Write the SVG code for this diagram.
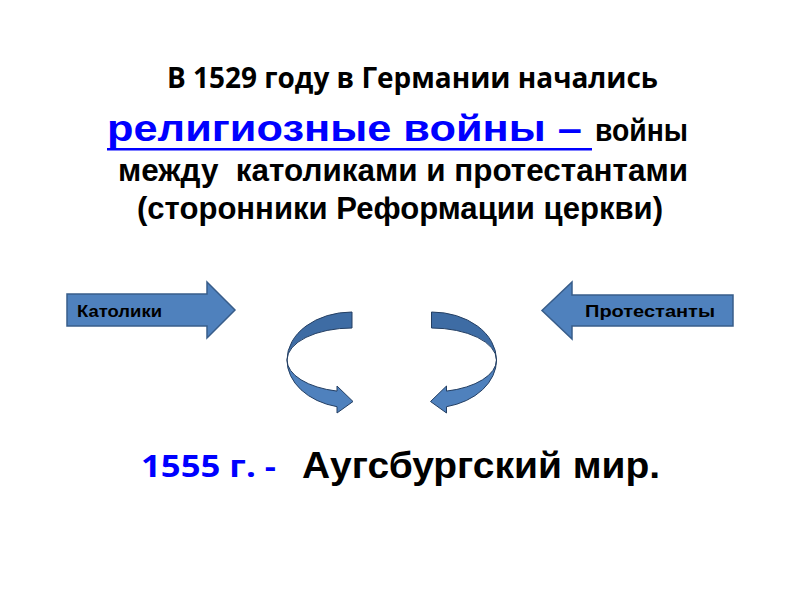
<svg xmlns="http://www.w3.org/2000/svg" width="800" height="600" viewBox="0 0 800 600">
<style>
.cal{font-family:"Open Sans","Noto Sans","DejaVu Sans",sans-serif;font-weight:bold}
.ar{font-family:"Liberation Sans",Arial,sans-serif;font-weight:bold}
.blk{fill:#000}
.blu{fill:#0000ff}
.arrow{fill:#4f81bd;stroke:#385d8a;stroke-width:1.5}
.back{fill:#3e6ca4;stroke:#243f63;stroke-width:1}
.front{fill:#4f81bd;stroke:#243f63;stroke-width:1}
.lbl{font-family:"Liberation Sans",Arial,sans-serif;font-weight:bold;font-size:17px;fill:#000}
</style>
<rect width="800" height="600" fill="#fff"/>
<g id="title">
<text class="cal blk" x="167" y="88" font-size="28" textLength="491" lengthAdjust="spacingAndGlyphs">В 1529 году в Германии начались</text>
<text class="ar blu" x="107" y="141" font-size="36" textLength="475" lengthAdjust="spacingAndGlyphs">религиозные войны –</text>
<rect x="107" y="148" width="485" height="2.5" fill="#0000ff"/>
<text class="ar blk" x="595" y="141" font-size="32" textLength="93" lengthAdjust="spacingAndGlyphs">войны</text>
<text class="ar blk" x="118" y="181" font-size="32" xml:space="preserve" textLength="570" lengthAdjust="spacingAndGlyphs">между  католиками и протестантами</text>
<text class="ar blk" x="137" y="219" font-size="32" textLength="526" lengthAdjust="spacingAndGlyphs">(сторонники Реформации церкви)</text>
</g>
<g id="katoliki">
<path class="arrow" d="M67,294 H207 V282 L235,310 L207,338 V326 H67 Z"/>
<text class="lbl" x="77" y="317" textLength="85" lengthAdjust="spacingAndGlyphs">Католики</text>
</g>
<g id="protestanty">
<path class="arrow" d="M733,295 H572 V282 L542,310.5 L572,339 V326 H733 Z"/>
<text class="lbl" x="585" y="317" textLength="130" lengthAdjust="spacingAndGlyphs">Протестанты</text>
</g>
<g id="connectors">
<g id="curve-left">
<path class="back" d="M352,312 A65,48 0 0 0 287,360 A65,32 0 0 1 352,328 Z"/>
<path class="front" d="M287,360 A65,48 0 0 0 337,406.7 L337,413 L353,401.5 L337,386 L337,391.1 A65,32 0 0 1 287,360 Z"/>
</g>
<g id="curve-right" transform="translate(783.5,0) scale(-1,1)">
<path class="back" d="M352,312 A65,48 0 0 0 287,360 A65,32 0 0 1 352,328 Z"/>
<path class="front" d="M287,360 A65,48 0 0 0 337,406.7 L337,413 L353,401.5 L337,386 L337,391.1 A65,32 0 0 1 287,360 Z"/>
</g>
</g>
<g id="result">
<text class="cal blu" x="141" y="477" font-size="30" xml:space="preserve" textLength="135" lengthAdjust="spacingAndGlyphs">1555 г. -</text>
<text class="ar blk" x="302" y="478" font-size="36" textLength="358" lengthAdjust="spacingAndGlyphs">Аугсбургский мир.</text>
</g>
</svg>
